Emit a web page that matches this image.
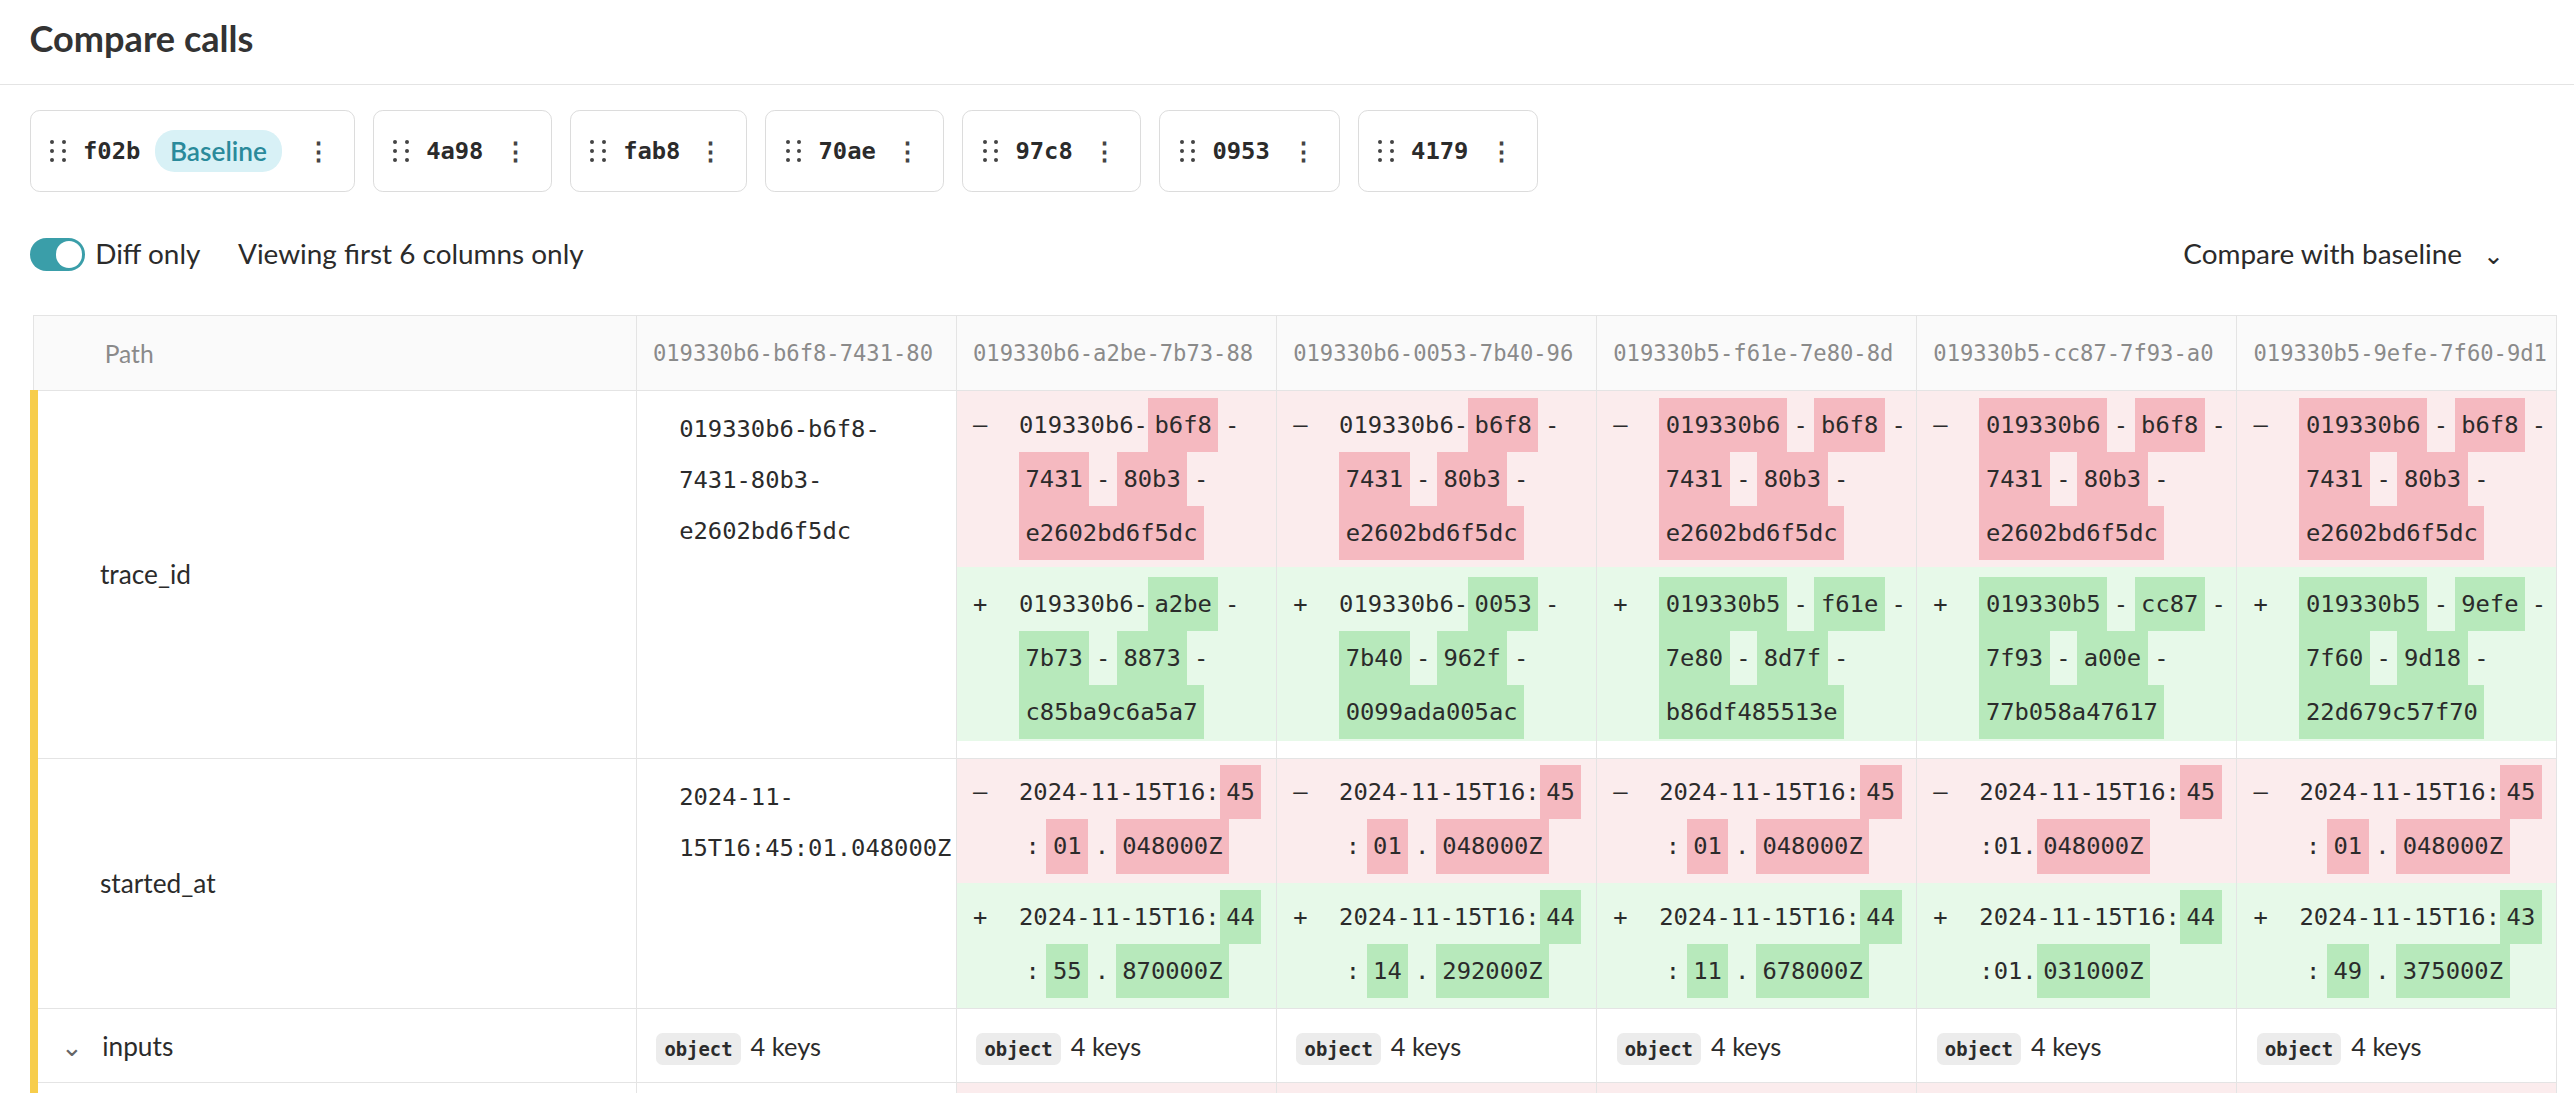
<!DOCTYPE html>
<html><head><meta charset="utf-8">
<script src="https://cdn.jsdelivr.net/npm/chart.js@4"></script>
<style>
html,body{margin:0;background:#fff;}
body{zoom:1.6416;font-family:Lato,"Open Sans",sans-serif;color:#2b2b2b;width:1568px;height:666px;overflow:hidden;position:relative}
.title{position:absolute;left:18px;top:10px;font-size:22px;font-weight:700;color:#333}
.hr{position:absolute;left:0;right:0;top:51px;border-top:1px solid #e4e4e4}
.tab{position:absolute;top:67px;height:50px;border:1px solid #dcdcdc;border-radius:6px;display:flex;align-items:center;font-weight:700;font-size:16px;box-sizing:border-box;font-family:"DejaVu Sans Mono",monospace;font-size:14.5px}
.grip{margin:0 10px 0 12px;width:10px;height:14px;display:grid;grid-template-columns:3px 3px;column-gap:4px;row-gap:2.5px}
.grip i{width:2.5px;height:2.5px;border-radius:50%;background:#444;display:block}
.pill{background:#d8f1f6;color:#2a8a9b;font-weight:600;border-radius:12px;padding:3px 9px;margin-left:9px;font-family:Lato,sans-serif;font-size:16px}
.kebab{margin-left:auto;margin-right:14px;color:#444;font-size:15px;font-family:Lato,sans-serif}
.toggle{position:absolute;left:18px;top:145px;width:34px;height:20px;border-radius:10px;background:#3a9ea9}
.toggle:after{content:"";position:absolute;right:2px;top:2px;width:16px;height:16px;border-radius:8px;background:#fff}
.txt{position:absolute;font-size:17px;top:144px}
table{position:absolute;left:18px;top:192px;border-collapse:collapse;table-layout:fixed;width:1537px}
td,th{border:1px solid #e4e4e4;padding:0;vertical-align:top;overflow:hidden;white-space:nowrap}
th{height:45px;background:#fafafa;font-weight:400;color:#8a8a8a;text-align:left;padding-left:10px;vertical-align:middle;font-family:"DejaVu Sans Mono",monospace;font-size:13.5px}
th.p{font-family:Lato,sans-serif;padding-left:43px;font-size:15px}
td.path{border-left:5px solid #f7cd4b;font-size:16px;vertical-align:middle;padding-left:38px}
.mono{font-family:"DejaVu Sans Mono",monospace;font-size:14.5px}
.base{padding:8px 0 0 26px;line-height:31px}
.red{background:#fbeced;padding:0 0 4px 0}
.grn{background:#e7f9e9;padding:0 0 4px 0}
.ln{height:33px;line-height:33px;padding-left:38px;position:relative}
.sg{position:absolute;left:10px}
.r .h{background:#f5b9c0}
.g .h{background:#b7e9bb}
.h,.s{padding:0 4px;display:inline-block}
.badge{font-family:"DejaVu Sans Mono",monospace;font-weight:700;font-size:11.5px;background:#ececec;border-radius:4px;padding:3px 5px;margin:0 6px 0 12px}
.obj{vertical-align:middle;font-size:15.5px}
</style></head><body>
<div class="title">Compare calls</div><div class="hr"></div>
<div id="tabs"></div>
<div class="toggle"></div>
<div class="txt" style="left:58px">Diff only</div>
<div class="txt" style="left:145px">Viewing first 6 columns only</div>
<div class="txt" style="left:1330px">Compare with baseline &nbsp;&nbsp;<span style="font-size:15px">⌄</span></div>
<table id="tbl"></table>
<script>
const tabIds=["f02b","4a98","fab8","70ae","97c8","0953","4179"];
const tabX=[18,227,347,466,586,706,827];
const tabW=[198,109,108,109,109,110,110];
const colHeads=["019330b6-b6f8-7431-80","019330b6-a2be-7b73-88","019330b6-0053-7b40-96","019330b5-f61e-7e80-8d","019330b5-cc87-7f93-a0","019330b5-9efe-7f60-9d1"];
const baseTrace=["019330b6-b6f8-","7431-80b3-","e2602bd6f5dc"];
const baseStart=["2024-11-","15T16:45:01.048000Z"];
// new values per compared column
const newPrefix=["019330b6","019330b6","019330b5","019330b5","019330b5"];
const newIds=[["a2be","7b73","8873","c85ba9c6a5a7"],["0053","7b40","962f","0099ada005ac"],["f61e","7e80","8d7f","b86df485513e"],["cc87","7f93","a00e","77b058a47617"],["9efe","7f60","9d18","22d679c57f70"]];
const newMin=["44","44","44","44","43"];
const newSec=["55","14","11","01","49"];
const newFrac=["870000Z","292000Z","678000Z","031000Z","375000Z"];
const inputKeys=[4,4,4,4,4,4];

const tabs=document.getElementById('tabs');
const grip='<span class="grip">'+'<i></i>'.repeat(6)+'</span>';
tabIds.forEach((t,i)=>{
  tabs.innerHTML+=`<div class="tab" style="left:${tabX[i]}px;width:${tabW[i]}px">${grip}${t}${i==0?'<span class="pill">Baseline</span>':''}<span class="kebab">⋮</span></div>`;
});
const H=(s)=>`<span class="h">${s}</span>`, S=(s)=>`<span class="s">${s}</span>`;
function line(sign,html){return `<div class="ln">${sign?`<span class="sg">${sign}</span>`:''}${html}</div>`}
let tr=`<colgroup><col style="width:367px">${colHeads.map(()=>'<col style="width:195px">').join('')}</colgroup>`;
tr+=`<tr><th class="p">Path</th>${colHeads.map(h=>`<th>${h}</th>`).join('')}</tr>`;
tr+=`<tr style="height:224px"><td class="path">trace_id</td><td class="mono base">${baseTrace.join('<br>')}</td>`;
newIds.forEach((n,i)=>{
  const pd=newPrefix[i]!=="019330b6";
  const p0=pd?H("019330b6")+S('-'):"019330b6-";
  const p1=pd?H(newPrefix[i])+S('-'):newPrefix[i]+"-";
  tr+=`<td class="mono"><div class="red r" style="padding-top:4px">${line('–',p0+H('b6f8')+S('-'))}${line('',H('7431')+S('-')+H('80b3')+S('-'))}${line('',H('e2602bd6f5dc'))}</div>`+
  `<div class="grn g" style="padding-top:6px;height:106px;box-sizing:border-box">${line('+',p1+H(n[0])+S('-'))}${line('',H(n[1])+S('-')+H(n[2])+S('-'))}${line('',H(n[3]))}</div></td>`;
});
tr+=`</tr>`;
tr+=`<tr style="height:152px"><td class="path">started_at</td><td class="mono base">${baseStart.join('<br>')}</td>`;
newSec.forEach((s,i)=>{
  const same=s==="01";
  const r2=same?":01."+H('048000Z'):S(':')+H('01')+S('.')+H('048000Z');
  const g2=same?":01."+H(newFrac[i]):S(':')+H(s)+S('.')+H(newFrac[i]);
  tr+=`<td class="mono"><div class="red r" style="padding-top:4px;height:76px;box-sizing:border-box">${line('–','2024-11-15T16:'+H('45'))}${line('',r2)}</div>`+
  `<div class="grn g" style="padding-top:4px;height:76px;box-sizing:border-box">${line('+','2024-11-15T16:'+H(newMin[i]))}${line('',g2)}</div></td>`;
});
tr+=`</tr>`;
tr+=`<tr style="height:45px"><td class="path" style="padding-left:14px;font-size:16px"><span style="color:#666;margin-right:12px">⌄</span>inputs</td>${inputKeys.map(k=>`<td class="obj"><span class="badge">object</span>${k} keys</td>`).join('')}</tr>`;
tr+=`<tr style="height:20px"><td class="path"></td><td></td>${inputKeys.slice(1).map(()=>'<td style="background:#fbeced"></td>').join('')}</tr>`;
document.getElementById('tbl').innerHTML=tr;
</script>
</body></html>
